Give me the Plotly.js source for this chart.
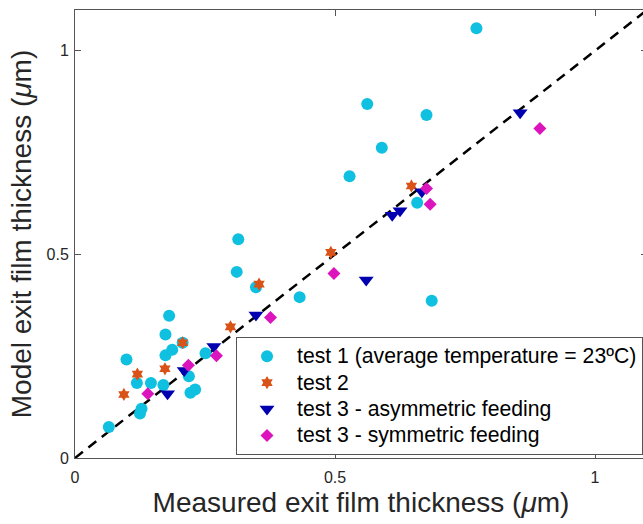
<!DOCTYPE html>
<html>
<head>
<meta charset="utf-8">
<script src="https://cdn.plot.ly/plotly-3.0.1.min.js"></script>
<style>
html,body{margin:0;padding:0;overflow:hidden;background:#fff;width:643px;height:524px;}
#chart{width:650px;height:524px;}
</style>
</head>
<body>
<div id="chart"></div>
<script>
// Test 1 (cyan circles)
const test1X = [0.065, 0.099, 0.181, 0.174, 0.174, 0.187, 0.119, 0.146, 0.170, 0.128, 0.125,
                0.219, 0.222, 0.231, 0.251, 0.207, 0.314, 0.311, 0.348, 0.432,
                0.562, 0.676, 0.590, 0.528, 0.658, 0.686, 0.772];
const test1Y = [0.076, 0.242, 0.349, 0.303, 0.252, 0.266, 0.184, 0.184, 0.179, 0.121, 0.109,
                0.201, 0.160, 0.168, 0.257, 0.283, 0.537, 0.457, 0.419, 0.395,
                0.869, 0.842, 0.762, 0.692, 0.627, 0.386, 1.055];
// Test 2 (orange hexagrams)
const test2X = [0.094, 0.120, 0.173, 0.207, 0.299, 0.354, 0.492, 0.647];
const test2Y = [0.156, 0.206, 0.219, 0.283, 0.322, 0.427, 0.505, 0.668];
// Test 3 asymmetric feeding (blue triangles)
const test3aX = [0.178, 0.210, 0.267, 0.348, 0.560, 0.610, 0.625, 0.667, 0.856];
const test3aY = [0.158, 0.215, 0.274, 0.351, 0.437, 0.596, 0.607, 0.654, 0.848];
// Test 3 symmetric feeding (magenta diamonds)
const test3sX = [0.140, 0.218, 0.272, 0.376, 0.498, 0.676, 0.683, 0.894];
const test3sY = [0.158, 0.228, 0.251, 0.345, 0.453, 0.662, 0.623, 0.809];
// y = x reference line
const refLine = [0, 1.1];
const tickVals = [0, 0.5, 1];
const tickText = ['0', '0.5', '1'];
const seriesNames = ['test 1 (average temperature = 23ºC)', 'test 2',
                     'test 3 - asymmetric feeding', 'test 3 - symmetric feeding'];

const big = s => '<span style="font-size:21.2px">' + s + '</span>';

const traces = [
  {x: refLine, y: refLine, mode: 'lines', showlegend: false, hoverinfo: 'skip',
   line: {color: '#000', width: 2.5, dash: '10px,7px'}},
  {x: test1X, y: test1Y, mode: 'markers', name: big(seriesNames[0]),
   marker: {symbol: 'circle', size: 12, color: '#0FC0E0'}},
  {x: test2X, y: test2Y, mode: 'markers', name: big(seriesNames[1]),
   marker: {symbol: 'hexagram', size: 10, color: '#D95319'}},
  {x: test3aX, y: test3aY, mode: 'markers', name: big(seriesNames[2]),
   marker: {symbol: 'triangle-down', size: 13, color: '#0000B0'}},
  {x: test3sX, y: test3sY, mode: 'markers', name: big(seriesNames[3]),
   marker: {symbol: 'diamond', size: 10, color: '#DC14BE'}}
];

const axisCommon = {
  range: [0, 1.1], tickvals: tickVals, ticktext: tickText,
  ticks: 'inside', ticklen: 6, tickwidth: 1, tickcolor: '#555',
  showline: true, linecolor: '#555', linewidth: 1, mirror: 'ticks',
  showgrid: false, zeroline: false,
  tickfont: {family: 'Liberation Sans, Arial, sans-serif', size: 16, color: '#262626'}
};

const layout = {
  width: 650, height: 524,
  margin: {l: 75, r: 3, t: 10, b: 66, autoexpand: false},
  paper_bgcolor: '#fff', plot_bgcolor: '#fff',
  font: {family: 'Liberation Sans, Arial, sans-serif', color: '#262626'},
  xaxis: Object.assign({}, axisCommon, {
    ticklabelstandoff: 5,
    title: {text: 'Measured exit film thickness (<i>μ</i>m)', standoff: 7,
            font: {size: 28, color: '#262626'}}
  }),
  yaxis: Object.assign({}, axisCommon, {
    ticklabelstandoff: 2,
    title: {text: 'Model exit film thickness (<i>μ</i>m)', standoff: 6,
            font: {size: 28, color: '#262626'}}
  }),
  legend: {
    x: 0.2815, y: 0.27, xanchor: 'left', yanchor: 'top',
    bgcolor: '#fff', bordercolor: '#555', borderwidth: 1,
    font: {size: 18, color: '#000'}, itemwidth: 50
  },
  showlegend: true
};

Plotly.newPlot('chart', traces, layout, {displayModeBar: false, staticPlot: true});
</script>
</body>
</html>
